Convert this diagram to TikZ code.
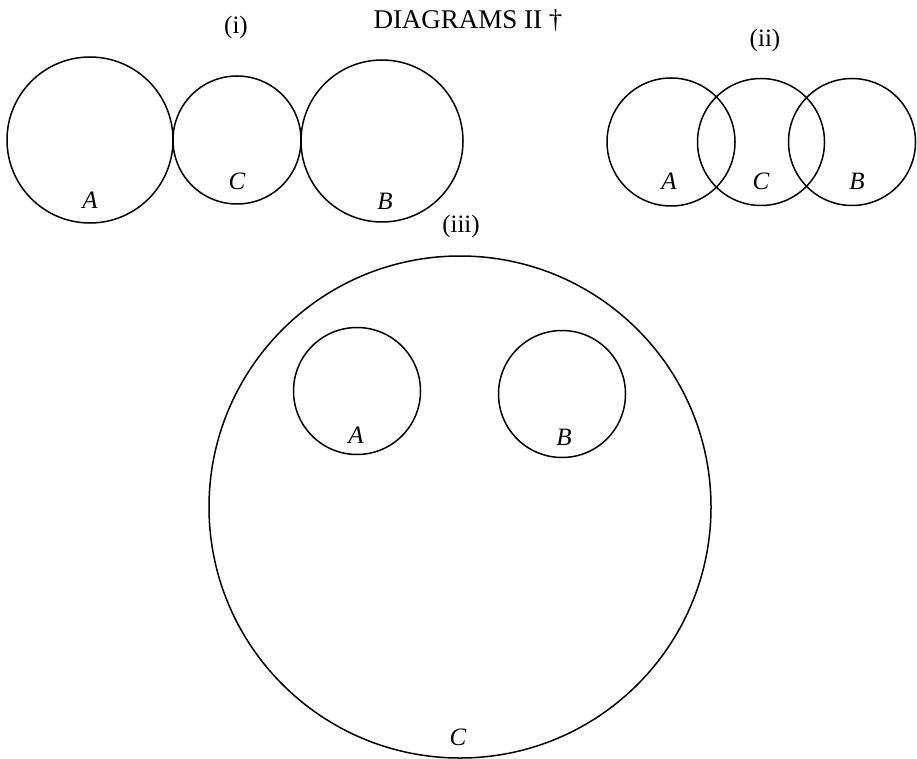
\documentclass[tikz,border=0pt]{standalone}
\usepackage{fontspec}
\setmainfont{Liberation Serif}
\begin{document}
\begin{tikzpicture}[x=1pt,y=-1pt,
  ring/.style={circle,draw=black,line width=1.5pt,inner sep=0pt},
  lab/.style={inner sep=0pt,anchor=base,font=\fontsize{25}{29}\selectfont\itshape},
  heading/.style={inner sep=0pt,anchor=center,font=\fontsize{25}{29}\selectfont}]
\useasboundingbox (0,0) rectangle (917,759);
% title
\node[inner sep=0pt,anchor=base,font=\fontsize{27}{32}\selectfont] (title) at (468,29) {DIAGRAMS II \textdagger};
% (i)
\node[heading] (ti) at (236,27) {(i)};
\node[ring,minimum size=166pt] (iA) at (90,140) {};
\node[ring,minimum size=128pt] (iC) at (237,140) {};
\node[ring,minimum size=162pt] (iB) at (382,141) {};
\node[lab] (liA) at (90,208) {A};
\node[lab] (liC) at (237,190) {C};
\node[lab] (liB) at (385,210) {B};
% (ii)
\node[heading] (tii) at (765,40) {(ii)};
\node[ring,minimum size=128pt] (iiA) at (671,142) {};
\node[ring,minimum size=127pt] (iiC) at (761,142) {};
\node[ring,minimum size=127pt] (iiB) at (852,142) {};
\node[lab] (liiA) at (669,190) {A};
\node[lab] (liiC) at (761,190) {C};
\node[lab] (liiB) at (857,190) {B};
% (iii)
\node[heading] (tiii) at (461,226) {(iii)};
\node[ring,minimum size=502pt] (iiiC) at (460,507) {};
\node[ring,minimum size=127pt] (iiiA) at (357,391) {};
\node[ring,minimum size=127pt] (iiiB) at (562,394) {};
\node[lab] (liiiA) at (356,443) {A};
\node[lab] (liiiB) at (564,445) {B};
\node[lab] (liiiC) at (458,745) {C};
\end{tikzpicture}
\end{document}
